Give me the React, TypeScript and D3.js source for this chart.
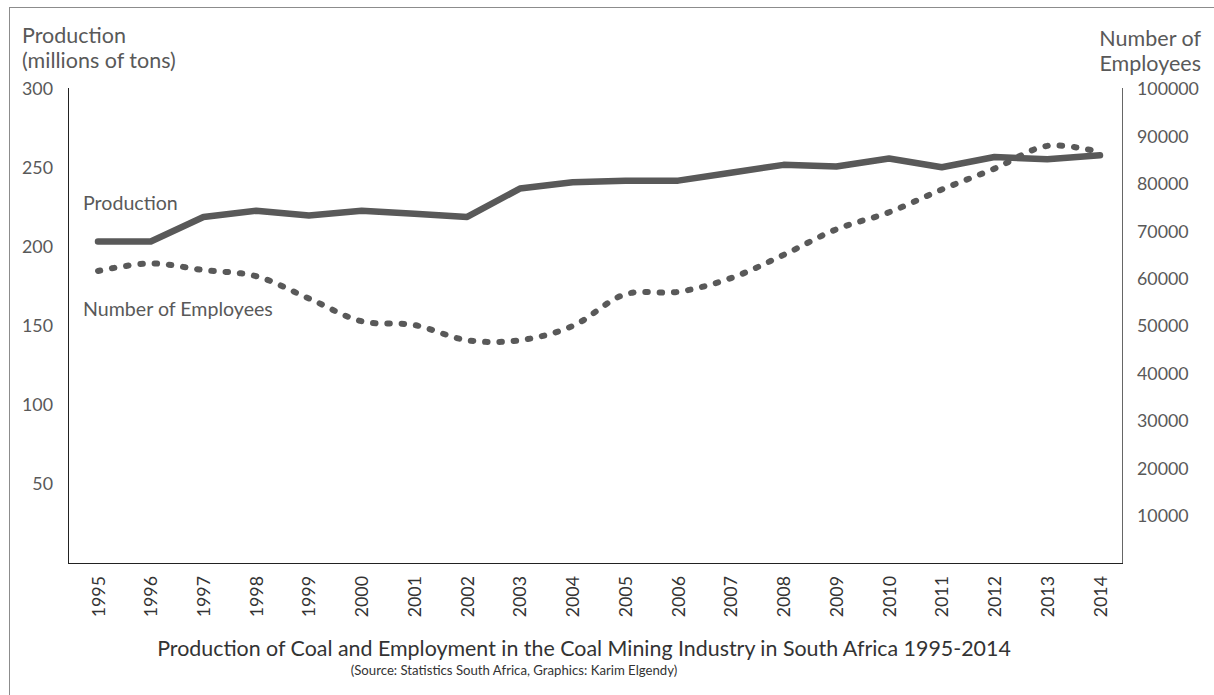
import React from "react";
import * as d3 from "d3";

const years = [1995,1996,1997,1998,1999,2000,2001,2002,2003,2004,2005,2006,2007,2008,2009,2010,2011,2012,2013,2014];
const production = [203.5,203.5,219,223,220,223,221,219,237,241,242,242,247,252,251,256,250.5,257,255.5,258];
const employees = [61600,63200,61800,60500,55800,51000,50200,47000,47000,50000,56700,57200,60100,65000,70400,74000,78800,83200,88000,86700];
const leftTicks = [50,100,150,200,250,300];
const rightTicks = [10000,20000,30000,40000,50000,60000,70000,80000,90000,100000];

const W = 1214, H = 695;
const plot = { left: 68, right: 1122, top: 88, bottom: 563 };
const FONT = "Lato, 'Open Sans', sans-serif";
const LINE = "#595959";

export default function App() {
  const x = d3.scalePoint<number>().domain(years).range([plot.left + 30, plot.right - 22]);
  const yL = d3.scaleLinear().domain([0, 300]).range([plot.bottom, 89]);
  const yR = d3.scaleLinear().domain([0, 100000]).range([plot.bottom, 89]);

  const prodLine = d3.line<number>().x((_, i) => x(years[i])!).y(d => yL(d));
  const empLine = d3.line<number>().x((_, i) => x(years[i])!).y(d => yR(d)).curve(d3.curveCatmullRom.alpha(0.5));

  return (
    <svg width={W} height={H} style={{ position: "absolute", left: 0, top: 0, background: "#fff" }}>
      <rect x={9.5} y={7.5} width={W + 20} height={H + 20} fill="#fff" stroke="#8c8c8c" strokeWidth={1} />
      {/* axes */}
      <line x1={plot.left + 0.5} x2={plot.left + 0.5} y1={plot.top} y2={plot.bottom} stroke="#222" strokeWidth={1} />
      <line x1={plot.right + 0.5} x2={plot.right + 0.5} y1={plot.top} y2={plot.bottom} stroke="#666" strokeWidth={1} />
      <line x1={plot.left} x2={plot.right + 1} y1={plot.bottom + 0.5} y2={plot.bottom + 0.5} stroke="#222" strokeWidth={1} />

      <g fontFamily={FONT} fontSize={17.8} fill="#595959">
        {leftTicks.map(t => (
          <text key={t} x={53} y={yL(t)} dy="0.36em" textAnchor="end">{t}</text>
        ))}
        {rightTicks.map(t => (
          <text key={t} x={1137} y={yR(t)} dy="0.36em" textAnchor="start">{t}</text>
        ))}
        {years.map(yr => (
          <text key={yr} transform={`translate(${x(yr)! + 6.5},576) rotate(-90)`} textAnchor="end" fill="#333">{yr}</text>
        ))}
      </g>

      <g fontFamily={FONT} fontSize={21.5} fill="#595959">
        <text x={22} y={43}>Production</text>
        <text x={22} y={68}>(millions of tons)</text>
        <text x={1201} y={46} textAnchor="end">Number of</text>
        <text x={1201} y={71} textAnchor="end">Employees</text>
      </g>
      <g fontFamily={FONT} fontSize={19.6} fill="#595959">
        <text x={83} y={210}>Production</text>
        <text x={83} y={316}>Number of Employees</text>
      </g>

      <path d={prodLine(production)!} fill="none" stroke={LINE} strokeWidth={6.5} strokeLinejoin="round" strokeLinecap="round" />
      <path d={empLine(employees)!} fill="none" stroke={LINE} strokeWidth={6} strokeLinecap="round" strokeDasharray="2.5 11.8" />

      <g fontFamily={FONT} fill="#333">
        <text x={584} y={656} textAnchor="middle" fontSize={21.4}>Production of Coal and Employment in the Coal Mining Industry in South Africa 1995-2014</text>
        <text x={514} y={675} textAnchor="middle" fontSize={13.2}>(Source: Statistics South Africa, Graphics: Karim Elgendy)</text>
      </g>
    </svg>
  );
}
